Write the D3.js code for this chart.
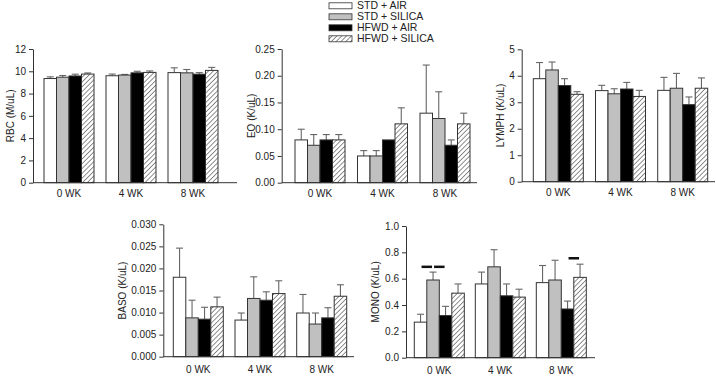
<!DOCTYPE html>
<html>
<head>
<meta charset="utf-8">
<script src="https://cdn.jsdelivr.net/npm/d3@7"></script>
<style>
  html, body { margin: 0; padding: 0; background: #fff; }
  svg { display: block; font-family: "Liberation Sans", Arial, sans-serif; }
</style>
</head>
<body>
<div id="chart"></div>
<script>
// data: [group][series]
const groups = ["0 WK", "4 WK", "8 WK"];
const series = ["STD + AIR", "STD + SILICA", "HFWD + AIR", "HFWD + SILICA"];

const rbcMean = [[9.35, 9.47, 9.58, 9.75], [9.6, 9.66, 9.86, 9.9], [9.88, 9.86, 9.74, 10.08]];
const rbcErr  = [[0.15, 0.15, 0.16, 0.1], [0.15, 0.06, 0.14, 0.13], [0.43, 0.3, 0.14, 0.27]];

const eoMean = [[0.08, 0.07, 0.08, 0.08], [0.05, 0.05, 0.08, 0.11], [0.13, 0.12, 0.07, 0.11]];
const eoErr  = [[0.02, 0.02, 0.01, 0.01], [0.01, 0.01, 0, 0.03], [0.09, 0.05, 0.01, 0.02]];

const lymphMean = [[3.89, 4.22, 3.63, 3.3], [3.44, 3.32, 3.5, 3.22], [3.45, 3.53, 2.91, 3.53]];
const lymphErr  = [[0.61, 0.3, 0.26, 0.1], [0.2, 0.19, 0.25, 0.23], [0.49, 0.56, 0.29, 0.39]];

const basoMean = [[0.018, 0.0088, 0.0085, 0.0113], [0.0083, 0.0132, 0.0128, 0.0143], [0.0099, 0.0074, 0.0088, 0.0137]];
const basoErr  = [[0.0066, 0.004, 0.0027, 0.0022], [0.0016, 0.0049, 0.0019, 0.0029], [0.0042, 0.0025, 0.0023, 0.0026]];

const monoMean = [[0.27, 0.59, 0.32, 0.49], [0.56, 0.69, 0.47, 0.46], [0.57, 0.59, 0.37, 0.61]];
const monoErr  = [[0.06, 0.06, 0.07, 0.07], [0.09, 0.13, 0.09, 0.06], [0.13, 0.15, 0.06, 0.1]];

// significance bars on MONO panel
const monoSig = [
  { group: "0 WK", from: 0, to: 1, value: 0.69 },
  { group: "0 WK", from: 1, to: 2, value: 0.69 },
  { group: "8 WK", from: 2, to: 3, value: 0.755 }
];

const W = 716, H = 376;
const svg = d3.select("#chart").append("svg").attr("width", W).attr("height", H);

// hatch pattern
const defs = svg.append("defs");
defs.append("pattern")
  .attr("id", "hatch")
  .attr("patternUnits", "userSpaceOnUse")
  .attr("width", 3.4).attr("height", 3.4)
  .attr("patternTransform", "rotate(45)")
  .call(p => {
    p.append("rect").attr("width", 3.4).attr("height", 3.4).attr("fill", "#fff");
    p.append("line").attr("x1", 0).attr("y1", 0).attr("x2", 0).attr("y2", 3.4)
      .attr("stroke", "#333").attr("stroke-width", 1.1);
  });

const fills = ["#ffffff", "#c0c0c0", "#000000", "url(#hatch)"];

const panels = [
  { label: "RBC (M/uL)", mean: rbcMean, err: rbcErr, max: 12, ticks: d3.range(0, 12.1, 2), fmt: d3.format("d"),
    axisX: 33, axisEnd: 237, yTop: 49, yZero: 182.7, band0: 44, step: 62, labDx: 23, xlabDy: 14.5 },
  { label: "EO (K/uL)", mean: eoMean, err: eoErr, max: 0.25, ticks: d3.range(0, 0.251, 0.05), fmt: d3.format(".2f"),
    axisX: 281.7, axisEnd: 477, yTop: 49, yZero: 182.7, band0: 295, step: 62.5, labDx: 30, xlabDy: 14.5 },
  { label: "LYMPH (K/uL)", mean: lymphMean, err: lymphErr, max: 5, ticks: d3.range(0, 5.1, 1), fmt: d3.format("d"),
    axisX: 521.7, axisEnd: 715, yTop: 49.3, yZero: 181.7, band0: 533.3, step: 62.2, labDx: 21, xlabDy: 14.5 },
  { label: "BASO (K/uL)", mean: basoMean, err: basoErr, max: 0.03, ticks: d3.range(0, 0.0301, 0.005), fmt: d3.format(".3f"),
    axisX: 163.3, axisEnd: 354, yTop: 224.3, yZero: 356.7, band0: 173.3, step: 61.7, labDx: 41, xlabDy: 16.5 },
  { label: "MONO (K/uL)", mean: monoMean, err: monoErr, max: 1.0, ticks: d3.range(0, 1.01, 0.2), fmt: d3.format(".1f"),
    axisX: 406, axisEnd: 595, yTop: 226, yZero: 357.7, band0: 414.3, step: 61, labDx: 31, xlabDy: 16, sig: monoSig }
];

const axisColor = "#333";
const fs = 10;

panels.forEach(p => {
  const g = svg.append("g");
  const gap = p.step - 50;
  const x = d3.scaleBand()
    .domain(groups)
    .range([p.band0 - gap / 2, p.band0 - gap / 2 + 3 * p.step])
    .paddingInner(gap / p.step)
    .paddingOuter(gap / p.step / 2);
  const xs = d3.scaleBand().domain(d3.range(series.length)).range([0, x.bandwidth()]);
  const y = d3.scaleLinear().domain([0, p.max]).range([p.yZero, p.yTop]);

  // y axis
  const ya = g.append("g")
    .attr("transform", `translate(${p.axisX},0)`)
    .call(d3.axisLeft(y).tickValues(p.ticks).tickFormat(p.fmt).tickSize(4).tickSizeOuter(0).tickPadding(3));
  ya.selectAll("path,line").attr("stroke", axisColor);
  ya.selectAll("text").attr("font-size", fs).attr("fill", "#222").attr("font-family", null);

  // y label
  g.append("text")
    .attr("transform", `translate(${p.axisX - p.labDx},${(p.yTop + p.yZero) / 2}) rotate(-90)`)
    .attr("text-anchor", "middle")
    .attr("dy", "0.35em")
    .attr("font-size", fs)
    .attr("fill", "#222")
    .text(p.label);

  // bars
  const rows = [];
  groups.forEach((gr, gi) => series.forEach((s, si) => {
    rows.push({ group: gr, si: si, mean: p.mean[gi][si], err: p.err[gi][si] });
  }));

  // error bars (upper only)
  const eb = g.selectAll(".eb").data(rows.filter(d => d.err > 0)).enter().append("g");
  eb.append("line")
    .attr("x1", d => x(d.group) + xs(d.si) + xs.bandwidth() / 2)
    .attr("x2", d => x(d.group) + xs(d.si) + xs.bandwidth() / 2)
    .attr("y1", d => y(d.mean))
    .attr("y2", d => y(d.mean + d.err))
    .attr("stroke", "#666").attr("stroke-width", 1.1);
  eb.append("line")
    .attr("x1", d => x(d.group) + xs(d.si) + xs.bandwidth() / 2 - 3.5)
    .attr("x2", d => x(d.group) + xs(d.si) + xs.bandwidth() / 2 + 3.5)
    .attr("y1", d => y(d.mean + d.err))
    .attr("y2", d => y(d.mean + d.err))
    .attr("stroke", "#666").attr("stroke-width", 1.1);

  g.selectAll(".bar").data(rows).enter().append("rect")
    .attr("x", d => x(d.group) + xs(d.si))
    .attr("y", d => y(d.mean))
    .attr("width", xs.bandwidth())
    .attr("height", d => y(0) - y(d.mean))
    .attr("fill", d => fills[d.si])
    .attr("stroke", "#333")
    .attr("stroke-width", 1);

  // x axis line
  g.append("line")
    .attr("x1", p.axisX).attr("x2", p.axisEnd)
    .attr("y1", p.yZero).attr("y2", p.yZero)
    .attr("stroke", axisColor).attr("stroke-width", 1);

  // x labels
  g.selectAll(".xl").data(groups).enter().append("text")
    .attr("x", d => x(d) + x.bandwidth() / 2)
    .attr("y", p.yZero + p.xlabDy)
    .attr("text-anchor", "middle")
    .attr("font-size", fs)
    .attr("fill", "#222")
    .text(d => d);

  // significance lines
  if (p.sig) {
    g.selectAll(".sig").data(p.sig).enter().append("line")
      .attr("x1", d => x(d.group) + xs(d.from) + xs.bandwidth() / 2 + 1)
      .attr("x2", d => x(d.group) + xs(d.to) + xs.bandwidth() / 2 - 1)
      .attr("y1", d => y(d.value))
      .attr("y2", d => y(d.value))
      .attr("stroke", "#111").attr("stroke-width", 2.5);
  }
});

// legend
const leg = svg.append("g").attr("transform", "translate(329,0)");
series.forEach((s, i) => {
  const cy = 5.8 + i * 11;
  leg.append("rect")
    .attr("x", 0).attr("y", cy - 3)
    .attr("width", 23).attr("height", 6)
    .attr("fill", fills[i])
    .attr("stroke", "#333").attr("stroke-width", 0.8);
  leg.append("text")
    .attr("x", 28).attr("y", cy + 3.6)
    .attr("font-size", 10.5)
    .attr("fill", "#222")
    .text(s);
});
</script>
</body>
</html>
